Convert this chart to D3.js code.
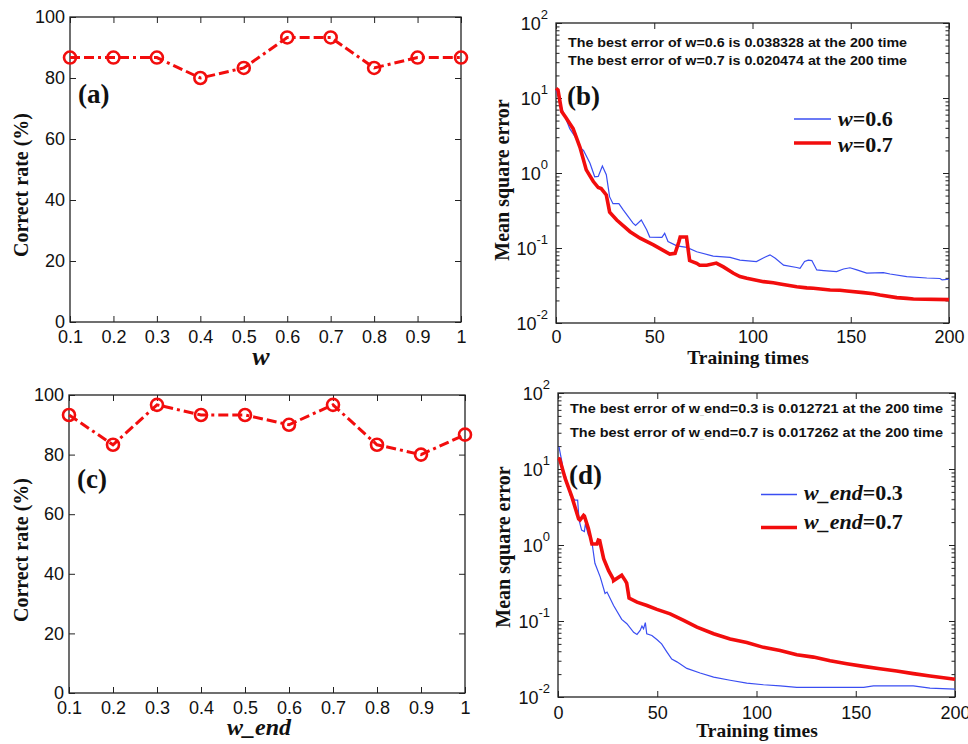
<!DOCTYPE html>
<html>
<head>
<meta charset="utf-8">
<script src="https://cdn.jsdelivr.net/npm/d3@7"></script>
<style>
body { margin: 0; background: #fff; }
text { fill: #111; }
</style>
</head>
<body>
<svg id="fig" width="968" height="744"></svg>
<script>
// ---- data ----
const wValues = [0.1, 0.2, 0.3, 0.4, 0.5, 0.6, 0.7, 0.8, 0.9, 1];
const rateByW = [86.7, 86.7, 86.7, 80, 83.3, 93.3, 93.3, 83.3, 86.7, 86.7];
const rateByWend = [93.3, 83.3, 96.7, 93.3, 93.3, 90, 96.7, 83.3, 80, 86.7];
const rateTicks = [0, 20, 40, 60, 80, 100];
const timeTicks = [0, 50, 100, 150, 200];
const decades = [0.01, 0.1, 1, 10, 100];

// [training time, mean square error]
const mseW06 = [[0,13],[3,7.2],[7,3.9],[9.7,3.05],[12.9,2.1],[14,2.0],[17.3,1.35],[19.7,0.89],[21.5,0.9],
  [23.6,1.24],[25.6,0.95],[27.3,0.48],[29,0.39],[32,0.39],[34.3,0.32],[39.2,0.215],[40.5,0.2],[43.4,0.236],
  [46.2,0.174],[47.7,0.14],[53.9,0.139],[55.3,0.157],[57,0.122],[61.5,0.107],[66.6,0.102],[71.6,0.089],
  [80,0.078],[88.6,0.075],[93.6,0.069],[102,0.066],[106.5,0.076],[108.9,0.081],[111.6,0.073],[115.8,0.059],
  [122.5,0.055],[124.2,0.0535],[126.5,0.066],[128.4,0.069],[130.2,0.068],[132.7,0.051],[136.2,0.05],
  [142.8,0.0485],[146.3,0.0525],[149.6,0.0545],[153.1,0.051],[158.1,0.0463],[166.6,0.047],[170,0.045],
  [178.5,0.0415],[188.7,0.0398],[195.4,0.0392],[196.5,0.0375],[200,0.0383]];
const mseW07 = [[0,13.5],[1,12.8],[2.9,6.6],[5,5.5],[8.7,3.9],[12.2,2.2],[15.4,1.1],[19,0.77],[21.5,0.64],
  [23,0.62],[25.6,0.51],[27.3,0.3],[30.9,0.236],[37.7,0.165],[42.8,0.135],[49.6,0.11],[57.9,0.083],
  [60.6,0.085],[62.5,0.12],[63.2,0.14],[66.4,0.14],[68,0.068],[71.6,0.0625],[73.1,0.059],[76.7,0.059],
  [81.6,0.063],[85.2,0.056],[90.3,0.046],[93.6,0.0417],[97.1,0.0394],[105.6,0.0356],[110.6,0.0344],
  [114.1,0.0331],[122.5,0.0305],[127.6,0.0294],[131,0.029],[139.5,0.0275],[144.5,0.0273],[148,0.0267],
  [156.5,0.0254],[161.5,0.0246],[164.9,0.0236],[173.4,0.0218],[178.5,0.0213],[181.9,0.0209],[200,0.0205]];
const mseWend03 = [[0.5,19.5],[2,12.3],[2.7,9.2],[3.7,8.2],[6.2,4.5],[8.6,3.9],[9.9,3.9],[10.6,2.13],
  [11.9,1.57],[13.3,1.5],[13.8,1.9],[15.3,1.36],[16.3,1.27],[17.3,1.0],[18.6,0.575],[21.3,0.378],[23.7,0.23],
  [24.7,0.24],[28,0.16],[32.1,0.105],[34.7,0.092],[38.1,0.071],[39.8,0.0666],[41.4,0.075],[42.3,0.0857],
  [43.1,0.079],[44,0.095],[44.7,0.068],[47.3,0.0646],[49.8,0.057],[52.2,0.05],[54.9,0.039],[57.3,0.0315],
  [59.9,0.029],[64.9,0.0238],[71.6,0.0207],[78.4,0.0183],[86.7,0.0166],[95.1,0.0152],[103.5,0.0145],
  [111.9,0.014],[120.3,0.0134],[140,0.0134],[154,0.0134],[158.9,0.014],[179,0.014],[187.4,0.0131],[200,0.0127]];
const mseWend07 = [[0,13.8],[0.8,13.6],[3.7,7.4],[7,4.3],[10.4,2.2],[11.1,2.13],[12.9,2.45],[13.3,2.4],
  [15.3,1.65],[17.1,1.03],[19.6,1.03],[20.3,1.16],[21,1.14],[23,0.66],[25.5,0.46],[27.9,0.354],[28,0.34],
  [32.1,0.4],[33.9,0.34],[34.6,0.316],[35.8,0.2],[39.8,0.177],[44.8,0.16],[49.8,0.142],[56.5,0.124],
  [63.3,0.102],[70,0.083],[78.4,0.068],[86.7,0.058],[95.1,0.052],[103.5,0.045],[111.9,0.041],[120.3,0.036],
  [128.7,0.0335],[137.1,0.03],[145.5,0.0274],[153.9,0.0253],[162.2,0.0236],[170.6,0.022],[179,0.0203],
  [187.4,0.0189],[200,0.0171]];

const RED = '#f20d0d';
const BLUE = '#3a4ef2';
const sans = 'Liberation Sans, Arial, sans-serif';
const serif = 'Liberation Serif, Times New Roman, serif';

const svg = d3.select('#fig');

function frame(g, p) {
  g.append('rect')
    .attr('x', p.l).attr('y', p.t)
    .attr('width', p.r - p.l).attr('height', p.b - p.t)
    .attr('fill', 'none').attr('stroke', '#222').attr('stroke-width', 1.3);
}

function styleAxis(sel, size) {
  sel.select('.domain').remove();
  sel.selectAll('line').attr('stroke', '#222').attr('stroke-width', 1);
  sel.selectAll('text').attr('font-family', sans).attr('font-size', size).attr('fill', '#111');
}

function rotLabel(g, x, y, txt) {
  g.append('text')
    .attr('transform', `translate(${x},${y}) rotate(-90)`)
    .attr('text-anchor', 'middle')
    .attr('font-family', serif).attr('font-weight', 'bold').attr('font-size', 20)
    .text(txt);
}

function panelTag(g, x, y, txt) {
  g.append('text').attr('x', x).attr('y', y)
    .attr('font-family', serif).attr('font-weight', 'bold').attr('font-size', 27)
    .text(txt);
}

// ---- correct-rate panels ----
function ratePanel(p, rates, tag, xName) {
  const g = svg.append('g');
  const x = d3.scaleLinear().domain([0.1, 1]).range([p.l, p.r]);
  const y = d3.scaleLinear().domain([0, 100]).range([p.b, p.t]);

  g.append('g').attr('transform', `translate(0,${p.b})`)
    .call(d3.axisBottom(x).tickValues(wValues).tickSize(-6).tickPadding(p.xPad)
      .tickFormat(d => d === 1 ? '1' : d3.format('.1f')(d)))
    .call(s => styleAxis(s, 18));
  g.append('g').attr('transform', `translate(0,${p.t})`)
    .call(d3.axisTop(x).tickValues(wValues).tickSize(-6).tickFormat(''))
    .call(s => styleAxis(s, 18));
  g.append('g').attr('transform', `translate(${p.l},0)`)
    .call(d3.axisLeft(y).tickValues(rateTicks).tickSize(-6).tickPadding(5))
    .call(s => styleAxis(s, 18));
  g.append('g').attr('transform', `translate(${p.r},0)`)
    .call(d3.axisRight(y).tickValues(rateTicks).tickSize(-6).tickFormat(''))
    .call(s => styleAxis(s, 18));
  frame(g, p);

  const pts = wValues.map((w, i) => [w, rates[i]]);
  g.append('path').datum(pts)
    .attr('d', d3.line().x(d => x(d[0])).y(d => y(d[1])))
    .attr('fill', 'none').attr('stroke', RED).attr('stroke-width', 3)
    .attr('stroke-dasharray', '10,4,10,4,3,4');
  g.selectAll('circle.m').data(pts).enter().append('circle')
    .attr('cx', d => x(d[0])).attr('cy', d => y(d[1])).attr('r', 6)
    .attr('fill', 'none').attr('stroke', RED).attr('stroke-width', 2.6);

  rotLabel(g, 28, p.ylabY, 'Correct rate (%)');
  panelTag(g, p.l + 8, p.tagY, tag);

  g.append('text').attr('x', p.xlabX).attr('y', p.xlabY)
    .attr('text-anchor', 'middle').attr('font-family', serif)
    .attr('font-weight', 'bold').attr('font-style', 'italic').attr('font-size', p.xlabSize)
    .text(xName);
}

// ---- mean square error panels ----
function msePanel(p, blue, red, tag, notes, legend) {
  const g = svg.append('g');
  const x = d3.scaleLinear().domain([0, 200]).range([p.l, p.r]);
  const y = d3.scaleLog().domain([0.01, 100]).range([p.b, p.t]);
  const minor = [];
  decades.slice(0, -1).forEach(d => { for (let m = 2; m < 10; m++) minor.push(d * m); });

  g.append('g').attr('transform', `translate(0,${p.b})`)
    .call(d3.axisBottom(x).tickValues(timeTicks).tickSize(-6).tickPadding(p.xPad))
    .call(s => styleAxis(s, 18));
  g.append('g').attr('transform', `translate(0,${p.t})`)
    .call(d3.axisTop(x).tickValues(timeTicks).tickSize(-6).tickFormat(''))
    .call(s => styleAxis(s, 18));
  [['axisLeft', p.l], ['axisRight', p.r]].forEach(([ax, pos]) => {
    g.append('g').attr('transform', `translate(${pos},0)`)
      .call(d3[ax](y).tickValues(decades).tickSize(-6).tickFormat(''))
      .call(s => styleAxis(s, 18));
    g.append('g').attr('transform', `translate(${pos},0)`)
      .call(d3[ax](y).tickValues(minor).tickSize(-3.5).tickFormat(''))
      .call(s => styleAxis(s, 18));
  });
  // decade labels 10^k
  decades.forEach(d => {
    const t = g.append('text').attr('x', p.l - 8).attr('y', y(d) + 6.5)
      .attr('text-anchor', 'end').attr('font-family', sans).attr('font-size', 18);
    t.append('tspan').text('10');
    t.append('tspan').attr('dy', -11).attr('font-size', 13).text(Math.round(Math.log10(d)));
  });
  frame(g, p);

  const line = d3.line().x(d => x(d[0])).y(d => y(d[1]));
  g.append('path').datum(blue).attr('d', line)
    .attr('fill', 'none').attr('stroke', BLUE).attr('stroke-width', 1.2);
  g.append('path').datum(red).attr('d', line)
    .attr('fill', 'none').attr('stroke', RED).attr('stroke-width', 3.6);

  rotLabel(g, p.ylabX, p.ylabY, 'Mean square error');
  g.append('text').attr('x', p.xlabX).attr('y', p.xlabY).attr('text-anchor', 'middle')
    .attr('font-family', serif).attr('font-weight', 'bold').attr('font-size', 19.5)
    .text('Training times');
  panelTag(g, p.l + 11, p.tagY, tag);

  notes.forEach((n, i) => {
    const t = g.append('text').attr('x', p.noteX).attr('y', p.noteY[i])
      .attr('font-family', sans).attr('font-weight', 'bold').attr('font-size', 12.2)
      .attr('textLength', p.noteW).attr('lengthAdjust', 'spacingAndGlyphs');
    let shifted = false;
    n.forEach(part => {
      if (part === '_') {
        t.append('tspan').attr('font-size', 6).attr('dy', 2).text('_');
        shifted = true;
      } else {
        const s = t.append('tspan').text(part);
        if (shifted) { s.attr('dy', -2); shifted = false; }
      }
    });
  });

  legend.forEach((lg, i) => {
    g.append('line').attr('x1', p.legX1).attr('x2', p.legX2)
      .attr('y1', p.legLineY[i]).attr('y2', p.legLineY[i])
      .attr('stroke', i === 0 ? BLUE : RED).attr('stroke-width', i === 0 ? 1.4 : 3.6);
    const t = g.append('text').attr('x', p.legTextX).attr('y', p.legTextY[i])
      .attr('font-family', serif).attr('font-weight', 'bold').attr('font-size', 22);
    t.append('tspan').attr('font-style', 'italic').text(lg[0]);
    t.append('tspan').text(lg[1]);
  });
}

ratePanel({l: 70, r: 461, t: 17, b: 322, xPad: 8, ylabY: 185, tagY: 103, xlabX: 261, xlabY: 365, xlabSize: 26},
  rateByW, '(a)', 'w');
ratePanel({l: 69, r: 465, t: 395, b: 693, xPad: 8, ylabY: 550, tagY: 488, xlabX: 259, xlabY: 735, xlabSize: 24},
  rateByWend, '(c)', 'w_end');

msePanel({l: 556, r: 949, t: 23, b: 323, xPad: 7, ylabX: 509, ylabY: 180, xlabX: 748, xlabY: 364,
    tagY: 105, noteX: 568, noteY: [47, 65], noteW: 339,
    legX1: 794, legX2: 831, legLineY: [119, 143], legTextX: 838, legTextY: [126, 151.5]},
  mseW06, mseW07, '(b)',
  [['The best error of w=0.6 is 0.038328 at the 200 time'], ['The best error of w=0.7 is 0.020474 at the 200 time']],
  [['w', '=0.6'], ['w', '=0.7']]);
msePanel({l: 558, r: 955, t: 393, b: 697, xPad: 9, ylabX: 510, ylabY: 547, xlabX: 757, xlabY: 737,
    tagY: 484, noteX: 570, noteY: [413, 436.5], noteW: 373,
    legX1: 761, legX2: 797, legLineY: [494.5, 527.5], legTextX: 804, legTextY: [500, 529]},
  mseWend03, mseWend07, '(d)',
  [['The best error of w', '_', 'end=0.3 is 0.012721 at the 200 time'],
   ['The best error of w', '_', 'end=0.7 is 0.017262 at the 200 time']],
  [['w_end', '=0.3'], ['w_end', '=0.7']]);
</script>
</body>
</html>
